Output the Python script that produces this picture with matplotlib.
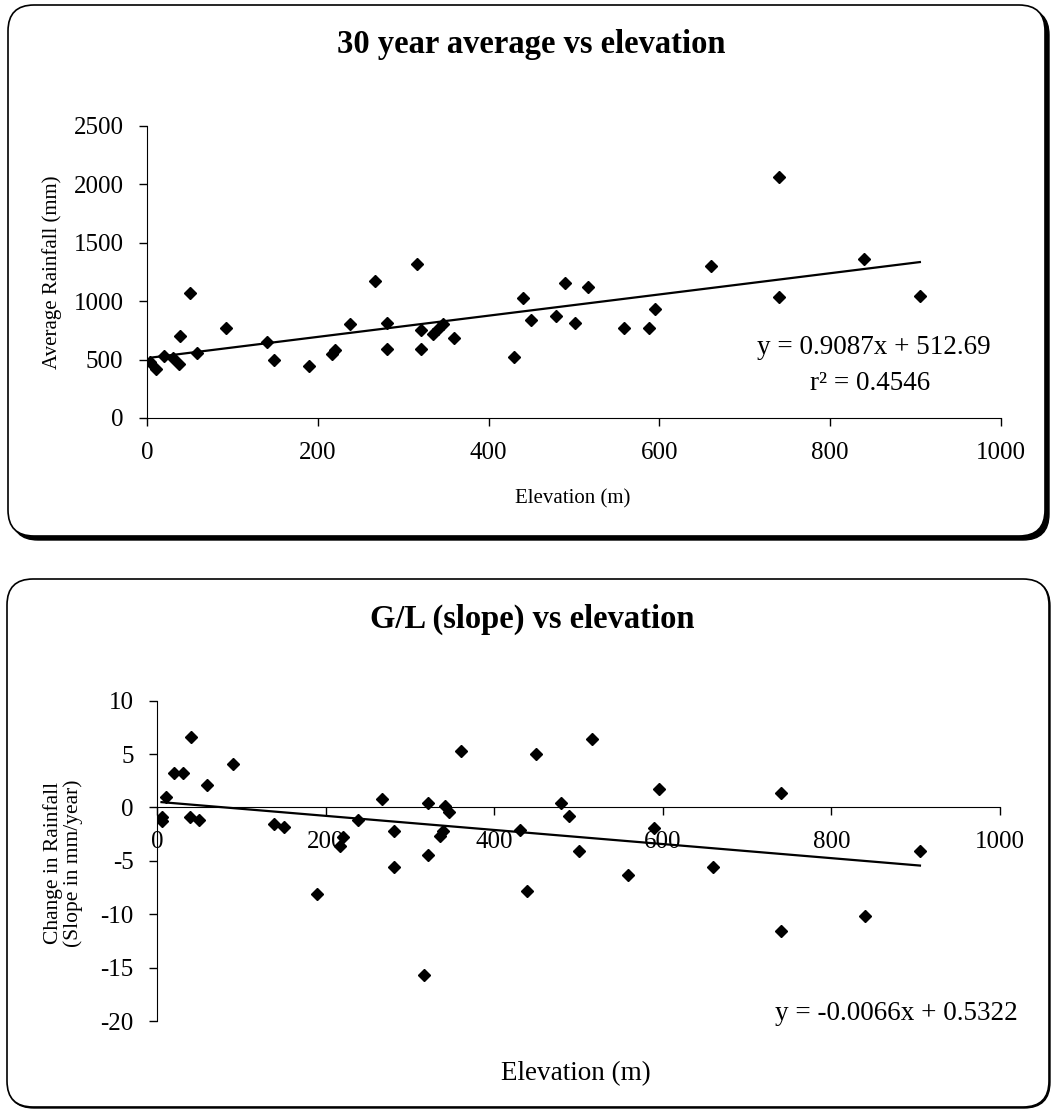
import matplotlib
matplotlib.use("Agg")
import matplotlib.pyplot as plt
from matplotlib.patches import FancyBboxPatch
import numpy as np

plt.rcParams['font.family'] = ['Liberation Serif', 'DejaVu Serif']
plt.rcParams['axes.unicode_minus'] = False

# 30 year average rainfall against station elevation
elev_avg = [4, 10, 20, 30, 38, 39, 50, 59, 92, 140, 149, 190, 217, 220, 238,
            267, 281, 281, 316, 321, 321, 335, 341, 347, 359, 430, 440, 450,
            479, 489, 501, 516, 559, 588, 595, 660, 740, 740, 840, 905]
rain_avg = [479, 423, 528, 517, 466, 702, 1070, 560, 770, 648, 494, 448, 551,
            580, 802, 1170, 813, 588, 1321, 757, 588, 722, 765, 802, 688, 526,
            1027, 839, 870, 1159, 813, 1121, 768, 770, 936, 1304, 2063, 1036,
            1364, 1042]

# change in rainfall (slope, mm/year) against elevation
elev_slope = [5, 6, 10, 20, 30, 39, 40, 50, 59, 90, 139, 150, 190, 217, 220,
              238, 267, 281, 281, 316, 321, 321, 335, 339, 341, 346, 360, 430,
              439, 449, 479, 489, 501, 516, 558, 590, 595, 659, 740, 740, 840,
              905]
slope = [-0.9, -1.3, 1.0, 3.2, 3.2, -0.85, 6.6, -1.2, 2.1, 4.1, -1.55, -1.85,
         -8.1, -3.65, -2.8, -1.2, 0.8, -2.25, -5.6, -15.7, 0.4, -4.45, -2.65,
         -2.25, 0.1, -0.4, 5.3, -2.15, -7.85, 5.0, 0.4, -0.8, -4.05, 6.4, -6.3,
         -1.9, 1.7, -5.6, 1.35, -11.55, -10.2, -4.05]

# trendline coefficients as printed on the chart
avg_fit = (0.9087, 512.69)
slope_fit = (-0.0066, 0.5322)

W, H = 1051, 1111
fig = plt.figure(figsize=(W / 100, H / 100), dpi=100)

# background axes in pixel units for the two rounded frames and titles
bg = fig.add_axes([0, 0, 1, 1])
bg.set_xlim(0, W)
bg.set_ylim(H, 0)
bg.axis('off')


def panel(x0, y0, x1, y1, shadow):
    style = 'round,pad=0,rounding_size=26'
    if shadow:
        bg.add_patch(FancyBboxPatch((x0 + shadow, y0 + shadow), x1 - x0, y1 - y0,
                                    boxstyle=style, fc='black', ec='black', lw=1))
    bg.add_patch(FancyBboxPatch((x0, y0), x1 - x0, y1 - y0,
                                boxstyle=style, fc='white', ec='black', lw=1.2))


panel(8, 5, 1045, 536, 4)
panel(7, 579, 1049, 1107, 1)

bg.text(531, 44, '30 year average vs elevation', ha='center', va='center',
        fontsize=23.5, fontweight='bold')
bg.text(532, 619, 'G/L (slope) vs elevation', ha='center', va='center',
        fontsize=23.5, fontweight='bold')


def style_axes(ax):
    ax.set_facecolor('none')
    ax.spines['top'].set_visible(False)
    ax.spines['right'].set_visible(False)
    ax.tick_params(direction='out', length=6, width=1, labelsize=18, pad=11)


# top chart
ax1 = fig.add_axes([147 / W, 1 - 418 / H, 854 / W, 292 / H])
style_axes(ax1)
ax1.plot(elev_avg, rain_avg, 'D', color='black', ms=6.5, ls='none')
xs = np.array([min(elev_avg), max(elev_avg)])
ax1.plot(xs, avg_fit[0] * xs + avg_fit[1], color='black', lw=1.6)
ax1.set_xlim(0, 1000)
ax1.set_ylim(0, 2500)
ax1.set_xticks(np.arange(0, 1001, 200))
ax1.set_yticks(np.arange(0, 2501, 500))
ax1.set_xlabel('Elevation (m)', fontsize=15)
ax1.xaxis.set_label_coords(0.499, -0.245)
ax1.set_ylabel('Average Rainfall (mm)', fontsize=15)
ax1.yaxis.set_label_coords(-0.1, 0.5)
ax1.text(874, 348, 'y = 0.9087x + 512.69', transform=bg.transData,
         ha='center', va='center', fontsize=19.5)
ax1.text(870, 384, 'r² = 0.4546', transform=bg.transData,
         ha='center', va='center', fontsize=19.5)

# bottom chart
ax2 = fig.add_axes([157.3 / W, 1 - 1021 / H, 842.7 / W, 320.3 / H])
style_axes(ax2)
ax2.spines['bottom'].set_position(('data', 0))
ax2.plot(elev_slope, slope, 'D', color='black', ms=6.5, ls='none')
xs = np.array([min(elev_slope), max(elev_slope)])
ax2.plot(xs, slope_fit[0] * xs + slope_fit[1], color='black', lw=1.6)
ax2.set_xlim(0, 1000)
ax2.set_ylim(-20, 10)
ax2.set_xticks(np.arange(0, 1001, 200))
ax2.set_yticks(np.arange(-20, 11, 5))
ax2.set_xlabel('Elevation (m)', fontsize=19.5)
ax2.xaxis.set_label_coords(0.497, -0.125)
ax2.set_ylabel('Change in Rainfall\n(Slope in mm/year)', fontsize=15.5,
               linespacing=1.0)
ax2.yaxis.set_label_coords(-0.088, 0.493)
ax2.text(896, 1013, 'y = -0.0066x + 0.5322', transform=bg.transData,
         ha='center', va='center', fontsize=19.5)

fig.savefig('out.png', dpi=100)
